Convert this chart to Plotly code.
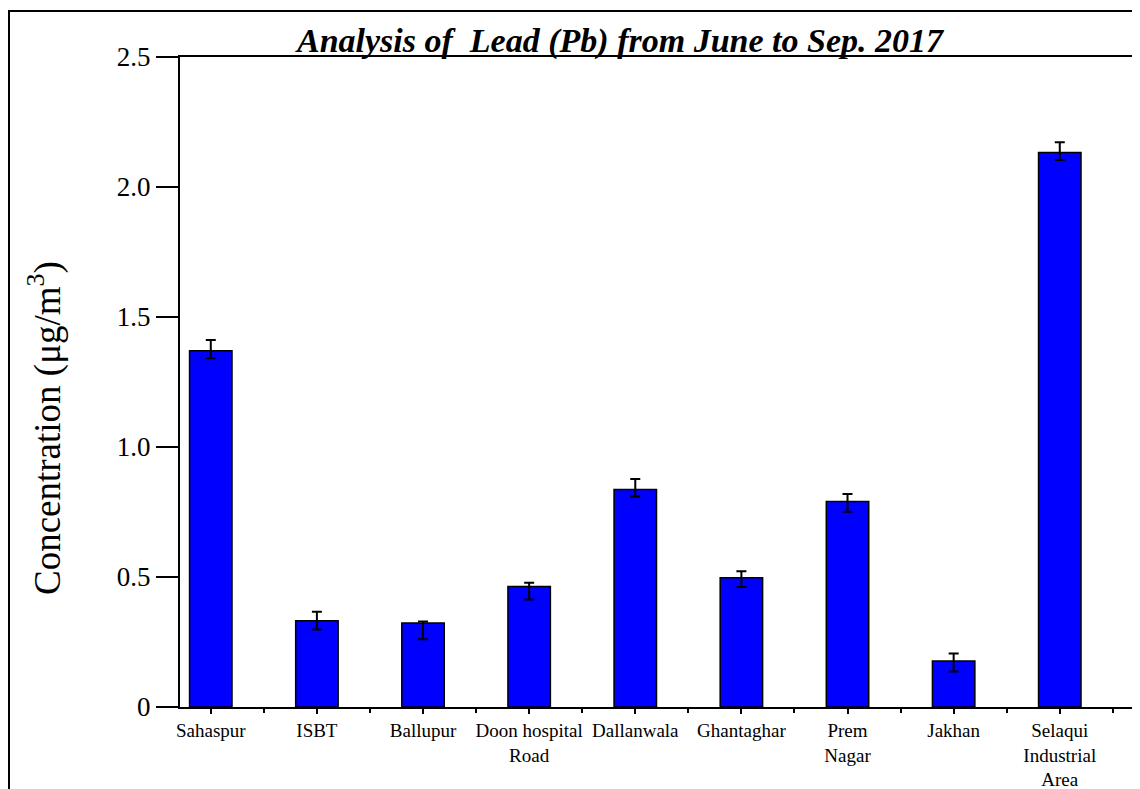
import plotly.graph_objects as go

# Datos
sites = ["Sahaspur", "ISBT", "Ballupur", "Doon hospital<br>Road", "Dallanwala",
         "Ghantaghar", "Prem<br>Nagar", "Jakhan", "Selaqui<br>Industrial<br>Area"]
lead_conc = [1.370, 0.332, 0.323, 0.463, 0.837, 0.497, 0.790, 0.177, 2.133]
err_plus = [0.042, 0.034, 0.006, 0.015, 0.040, 0.025, 0.029, 0.029, 0.039]
err_minus = [0.029, 0.034, 0.062, 0.050, 0.027, 0.035, 0.039, 0.040, 0.029]
y_ticks = [0, 0.5, 1.0, 1.5, 2.0, 2.5]
y_tick_text = ["0", "0.5", "1.0", "1.5", "2.0", "2.5"]

SERIF = "Liberation Serif"

# La página añade 8 px de margen al body
W, H = 1132, 781
L, R, T, B = 172, 7, 49, 82
PW, PH = W - L - R, H - T - B

fig = go.Figure()

fig.add_trace(go.Bar(
    x=sites,
    y=lead_conc,
    width=0.4,
    marker=dict(color="#0000FF", line=dict(color="black", width=1.5)),
    error_y=dict(type="data", symmetric=False, array=err_plus, arrayminus=err_minus,
                 color="black", thickness=2, width=5),
    showlegend=False,
    hoverinfo="x+y",
))

# Eje auxiliar para las marcas entre barras
fig.add_trace(go.Scatter(
    x=sites, y=[0] * len(sites), xaxis="x2", mode="none",
    showlegend=False, hoverinfo="skip",
))

x_range = [-0.29, 8.69]

fig.update_layout(
    width=W,
    height=H,
    margin=dict(l=L, r=R, t=T, b=B, autoexpand=False),
    paper_bgcolor="white",
    plot_bgcolor="white",
    font=dict(family=SERIF, color="black"),
    title=dict(
        text="Analysis of  Lead (Pb) from June to Sep. 2017",
        font=dict(family=SERIF, size=34, color="black", weight="bold", style="italic"),
        x=612 / W, xanchor="center", xref="container",
        y=1 - 32 / H, yanchor="middle", yref="container",
    ),
    xaxis=dict(
        type="category",
        range=x_range,
        automargin=False,
        showline=True, linecolor="black", linewidth=2, mirror=True,
        ticks="outside", ticklen=5, tickwidth=2, tickcolor="black",
        tickfont=dict(family=SERIF, size=19, color="black"),
        showgrid=False, zeroline=False,
    ),
    xaxis2=dict(
        type="category",
        overlaying="x",
        matches="x",
        range=x_range,
        automargin=False,
        tickson="boundaries",
        ticks="outside", ticklen=5, tickwidth=2, tickcolor="black",
        showticklabels=False, showline=False, showgrid=False,
    ),
    yaxis=dict(
        range=[0, 2.5],
        automargin=False,
        tickvals=y_ticks, ticktext=y_tick_text,
        showline=True, linecolor="black", linewidth=2, mirror=True,
        ticks="outside", ticklen=22, tickwidth=2, tickcolor="black",
        tickfont=dict(family=SERIF, size=27, color="black"),
        showgrid=False, zeroline=False,
    ),
    annotations=[dict(
        text="Concentration (μg/m<sup>3</sup>)",
        xref="paper", yref="paper",
        x=(37 - L) / PW, y=(PH + T - 420) / PH,
        xanchor="center", yanchor="middle",
        textangle=-90, showarrow=False,
        font=dict(family=SERIF, size=37, color="black"),
    )],
    shapes=[dict(
        type="rect", xref="paper", yref="paper",
        x0=(1 - L) / PW, x1=(W + 10 - L) / PW,
        y0=(PH + T - (H + 10)) / PH, y1=(PH + T - 3) / PH,
        line=dict(color="black", width=2), fillcolor="rgba(0,0,0,0)",
        layer="below",
    )],
)

fig.write_html("out.html")
